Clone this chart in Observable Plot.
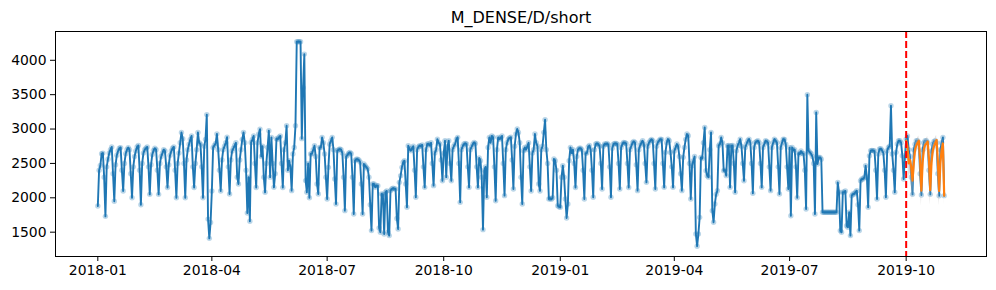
<!DOCTYPE html>
<html><head><meta charset="utf-8">
<script src="https://cdn.jsdelivr.net/npm/d3@7"></script>
<script src="https://cdn.jsdelivr.net/npm/@observablehq/plot@0.6"></script>
<style>body{margin:0;background:#fff}</style>
</head><body><div id="chart"></div>
<script>
const title = "M_DENSE/D/short";
const startDate = "2018-01-01";
const forecastStart = "2019-10-01";

// daily values, one row per week (Mon..Sun), 2018-01-01 .. 2018-04-01
const daily2018Q1 = [
  1880,2400,2470,2640,2650,2300,1730,
  2450,2560,2650,2700,2740,2350,1950,
  2480,2620,2680,2720,2730,2400,2100,
  2500,2640,2700,2730,2700,2350,2000,
  2450,2600,2680,2740,2760,2400,1900,
  2500,2650,2700,2720,2740,2450,2050,
  2480,2630,2690,2720,2700,2400,2050,
  2500,2600,2650,2700,2680,2450,2150,
  2480,2620,2680,2720,2740,2400,2000,
  2500,2650,2800,2950,2860,2500,2000,
  2550,2700,2780,2850,2900,2450,2150,
  2500,2700,2950,2800,2780,2450,2000,
  2750,2850,3210,1690,1410,1640,2100
];
// 2018-04-02 .. 2018-07-01
const daily2018Q2 = [
  2730,2760,2790,2930,2700,2400,2100,
  2550,2700,2750,2800,2880,2450,2056,
  2550,2680,2720,2760,2800,2300,2200,
  2550,2700,2850,2952,2800,2400,1780,
  2300,1660,2806,2850,2900,2500,2150,
  2800,2927,2999,2600,2750,2300,2080,
  2500,2733,2976,2300,2879,2500,2152,
  2350,2860,2850,2880,2900,2500,2150,
  2700,2800,3048,2400,2540,2450,2104,
  2637,2733,3048,4270,4270,4270,4270,
  2860,3600,4090,2250,2080,2500,2000,
  2637,2640,2700,2757,2600,2201,2056,
  2733,2730,2879,2800,2637,2300,1983
];
// 2018-07-02 .. 2018-09-30
const daily2018Q3 = [
  2443,2780,2830,2879,2700,2273,1910,
  2685,2700,2709,2700,2650,2300,1813,
  2600,2620,2650,2660,2640,2300,1765,
  2540,2560,2560,2550,2520,2200,1765,
  2491,2467,2443,2420,2300,1900,1523,
  2201,2200,2152,2180,2177,1560,1499,
  2056,2050,1474,2080,2100,1500,1450,
  2104,2128,2140,2130,2128,1700,1547,
  2225,2322,2443,2516,2540,2200,1862,
  2758,2709,2685,2720,2750,2400,2007,
  2700,2740,2758,2750,2770,2450,2152,
  2700,2782,2782,2760,2800,2500,2177,
  2650,2700,2854,2800,2780,2550,2249
];
// 2018-10-01 .. 2018-12-30
const daily2018Q4 = [
  2650,2830,2300,2750,2830,2500,2249,
  2700,2750,2782,2850,2879,2500,1934,
  2700,2750,2782,2790,2782,2450,2152,
  2700,2740,2780,2806,2790,2450,2152,
  2580,2540,2300,1537,2400,2450,2007,
  2733,2879,2800,2900,2880,2450,1958,
  2700,2879,2850,2870,2900,2500,2031,
  2700,2800,2854,2870,2880,2550,2128,
  2750,2927,3000,2950,2800,2300,1910,
  2685,2733,2700,2750,2800,2450,2100,
  2650,2700,2927,2800,2750,2201,2100,
  2700,2750,2952,3135,2700,2500,1983,
  1990,1980,2000,2564,2540,2400,1886
];
// 2018-12-31 .. 2019-03-31
const daily2019Q1 = [
  1870,1862,2298,2467,2300,1983,1707,
  1910,2540,2733,2650,2700,2500,2150,
  2600,2700,2720,2720,2700,2400,1983,
  2650,2650,2740,2760,2700,2400,2007,
  2700,2782,2790,2780,2750,2500,2128,
  2750,2782,2780,2790,2770,2450,2007,
  2720,2780,2790,2790,2780,2500,2128,
  2730,2780,2806,2800,2790,2500,2150,
  2700,2750,2800,2820,2800,2480,2104,
  2700,2760,2800,2830,2780,2500,2225,
  2750,2800,2830,2850,2830,2500,2128,
  2750,2806,2830,2854,2850,2500,2152,
  2661,2800,2854,2830,2660,2450,2152
];
// 2019-04-01 .. 2019-06-30
const daily2019Q2 = [
  2680,2730,2782,2750,2600,2350,2104,
  2588,2733,2850,2927,2903,2500,1983,
  2467,2540,2600,1474,1295,1474,1716,
  2588,2570,2800,3024,2394,2322,2300,
  2700,2951,1813,1644,1910,2050,2104,
  2758,2782,2879,2800,2394,2400,2322,
  2758,2760,2152,2758,2760,2500,2080,
  2685,2758,2800,2854,2750,2500,2249,
  2733,2782,2830,2854,2800,2500,2065,
  2733,2806,2820,2830,2800,2500,2152,
  2733,2780,2830,2820,2800,2450,2104,
  2733,2800,2854,2830,2800,2450,2055,
  2733,2800,2854,2850,2780,2450,2128
];
// 2019-07-01 .. 2019-09-30
const daily2019Q3 = [
  2730,1740,2733,2690,2700,2450,2000,
  2650,2637,2680,2650,2640,2400,1837,
  3499,2685,2661,2640,2600,2500,1765,
  3242,2491,2588,2588,2560,1790,1790,
  1790,1790,1790,1790,1790,1790,1790,
  1790,1790,1790,2225,2080,1523,1498,
  2080,2080,2100,1595,1571,1789,1450,
  2031,2055,2055,2080,2104,1900,1523,
  2249,2273,2273,2298,2467,2300,1862,
  2612,2685,2690,2685,2680,2400,1983,
  2637,2709,2715,2690,2650,2400,2007,
  2685,2733,2750,3339,2637,2400,2080,
  2661,2782,2830,2830,2800,2612,2273,
  2588
];
// 2019-10-01 .. 2019-10-31 (actual)
const daily2019Oct = [
  2854,2900,2700,2600,2300,2050,
  2700,2780,2830,2830,2800,2350,2040,
  2700,2800,2830,2830,2800,2400,2050,
  2680,2780,2820,2830,2800,2350,2030,
  2700,2800,2878,2031
];
// forecast 2019-10-01 .. 2019-10-31
const forecastMedian = [
  2830,2750,2500,2550,2450,2249,
  2500,2700,2760,2800,2830,2550,2104,
  2520,2710,2770,2790,2820,2560,2110,
  2510,2690,2750,2800,2840,2540,2100,
  2500,2700,2790,2031
];
const forecastLower = [
  2700,2600,2300,2360,2220,1960,
  2300,2560,2640,2690,2710,2330,1880,
  2320,2570,2650,2680,2700,2340,1890,
  2310,2550,2630,2690,2720,2320,1880,
  2300,2560,2660,1900
];
const forecastUpper = [
  2900,2830,2600,2640,2550,2360,
  2600,2780,2830,2870,2900,2650,2220,
  2620,2790,2840,2860,2890,2660,2230,
  2610,2770,2820,2870,2910,2640,2220,
  2600,2780,2860,2140
];
const yTicks = [1500, 2000, 2500, 3000, 3500, 4000];
const xTickLabels = ["2018-01","2018-04","2018-07","2018-10","2019-01","2019-04","2019-07","2019-10"];

const allValues = [...daily2018Q1, ...daily2018Q2, ...daily2018Q3, ...daily2018Q4,
                   ...daily2019Q1, ...daily2019Q2, ...daily2019Q3, ...daily2019Oct];
const t0 = new Date(startDate);
const actual = allValues.map((v, i) => ({date: d3.utcDay.offset(t0, i), value: v}));
const f0 = new Date(forecastStart);
const fc = forecastMedian.map((v, i) => ({date: d3.utcDay.offset(f0, i), median: v, lo: forecastLower[i], hi: forecastUpper[i]}));

const tEnd = actual[actual.length - 1].date;
const span = (tEnd - t0) * 0.05;
const xDomain = [new Date(+t0 - span), new Date(+tEnd + span)];
const vMin = d3.min(allValues), vMax = d3.max(allValues);
const ySpan = (vMax - vMin) * 0.05;
const xTicks = xTickLabels.map(s => new Date(s + "-01"));

const chart = Plot.plot({
  width: 996, height: 290,
  marginLeft: 55, marginRight: 10, marginTop: 31, marginBottom: 34,
  style: {fontFamily: "DejaVu Sans", fontSize: "13.9px", background: "white", color: "black"},
  x: {type: "utc", domain: xDomain, ticks: xTicks, tickFormat: d3.utcFormat("%Y-%m"), tickSize: 5, tickPadding: 4, label: null},
  y: {domain: [vMin - ySpan, vMax + ySpan], ticks: yTicks, tickFormat: d3.format("d"), tickSize: 5, tickPadding: 4, label: null},
  marks: [
    Plot.dot(actual, {x: "date", y: "value", r: 2.7, fill: "#1f77b4", fillOpacity: 0.3, stroke: "none"}),
    Plot.lineY(actual, {x: "date", y: "value", stroke: "#1f77b4", strokeWidth: 1.9}),
    Plot.areaY(fc, {x: "date", y1: "lo", y2: "hi", fill: "#b8b8b8", fillOpacity: 0.45}),
    Plot.lineY(fc, {x: "date", y: "median", stroke: "#ff7f0e", strokeWidth: 2.2}),
    Plot.ruleX([f0], {stroke: "red", strokeWidth: 2, strokeDasharray: "7,3"}),
    Plot.frame({stroke: "black", strokeWidth: 1}),
    Plot.text([title], {frameAnchor: "top", dy: -9, lineAnchor: "bottom", fontSize: 16, text: d => d})
  ]
});
document.getElementById("chart").appendChild(chart);
</script>
</body></html>
